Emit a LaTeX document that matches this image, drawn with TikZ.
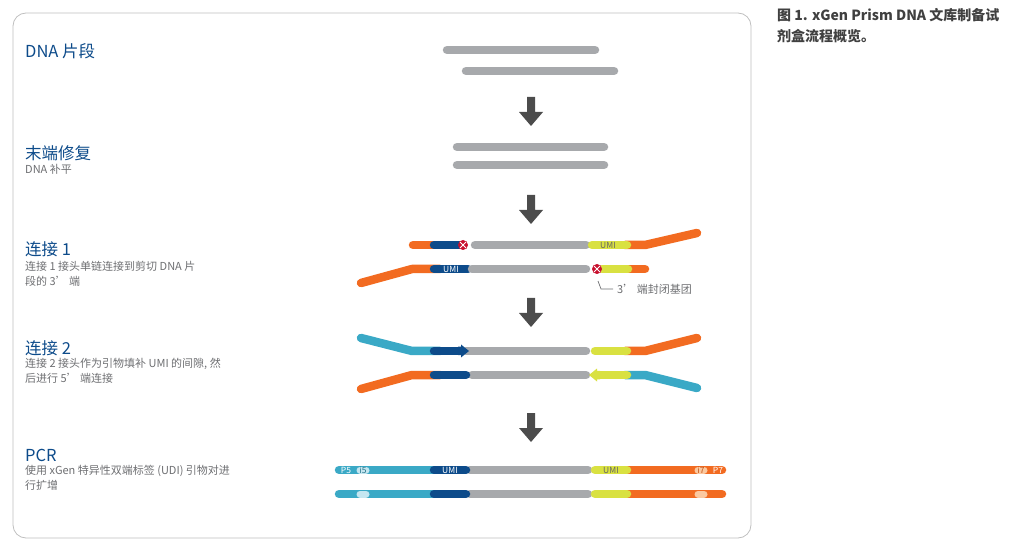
\documentclass[tikz,border=0pt]{standalone}
\usepackage{fontspec}
\setmainfont{Noto Sans CJK SC}
\begin{document}
\definecolor{og}{HTML}{F26B21}
\definecolor{nv}{HTML}{0D4B8A}
\definecolor{gy}{HTML}{A7A9AC}
\definecolor{yl}{HTML}{D9E141}
\definecolor{tl}{HTML}{3AA9C6}
\definecolor{ltl}{HTML}{C5E6F0}
\definecolor{pch}{HTML}{FBC9A0}
\definecolor{rd}{HTML}{C8102E}
\definecolor{tb}{HTML}{0D4B8A}
\definecolor{tg}{HTML}{6D6E71}
\begin{tikzpicture}[x=1pt,y=-1pt,
  s/.style={line width=8.5pt,line cap=round,line join=round},
  head/.style={anchor=base west,text=tb,font=\fontsize{16.5}{16}\selectfont,inner sep=0},
  desc/.style={anchor=north west,text=tg,font=\fontsize{11}{15}\selectfont,inner sep=0,align=left},
  lab/.style={text=white,font=\fontsize{8.5}{8}\selectfont,inner sep=0},
  blk/.style={fill=black!70,draw=none}]
\useasboundingbox (0,0) rectangle (1031,545);
\draw[black!25,line width=0.8pt,rounded corners=13pt] (13,13) rectangle (751,538);
\node[anchor=north west,font=\bfseries\fontsize{14}{21}\selectfont,text=black!75,align=left,inner sep=0] (cap) at (777,8) {图 1. xGen Prism DNA 文库制备试\\剂盒流程概览。};
% left texts
\node[head] (h1) at (25,58) {DNA 片段};
\node[head] (h2) at (25,160) {末端修复};
\node[desc] (d2) at (25,164) {DNA 补平};
\node[head] (h3) at (25,256) {连接 1};
\node[desc] (d3) at (25,261) {连接 1 接头单链连接到剪切 DNA 片\\段的 3’ 端};
\node[head] (h4) at (25,355) {连接 2};
\node[desc] (d4) at (25,358) {连接 2 接头作为引物填补 UMI 的间隙, 然\\后进行 5’ 端连接};
\node[head] (h5) at (25,461) {PCR};
\node[desc] (d5) at (25,465) {使用 xGen 特异性双端标签 (UDI) 引物对进\\行扩增};
% arrows
\foreach \y in {97,195,298,413}
  \fill[blk] (527,\y)--(535,\y)--(535,\y+15)--(543,\y+15)--(531,\y+29)--(519,\y+15)--(527,\y+15)--cycle;
% fragments
\draw[s,gy] (447,50)--(595,50);
\draw[s,gy] (466,71)--(614,71);
\draw[s,gy] (457,147)--(604,147);
\draw[s,gy] (457,165)--(604,165);
% ligation 1 top
\draw[s,og] (413,245)--(440,245);
\draw[s,og] (625,245)--(645,245)--(697,233);
\draw[s,nv] (434,245)--(459,245);
\draw[s,gy] (475,245)--(586,245);
\draw[s,yl] (592,245)--(627,245);
\node[lab,text=black!60] (u1) at (608,245) {UMI};
\fill[rd] (463,245) circle (5pt);
\draw[white,line width=1pt] (460,242)--(466,248) (466,242)--(460,248);
% ligation 1 bottom
\draw[s,og] (361,283)--(412,269)--(440,269);
\draw[s,og] (620,269)--(645,269);
\draw[s,nv] (434,269)--(468,269);
\draw[s,gy] (472,269)--(586,269);
\draw[s,yl] (602,269)--(628,269);
\node[lab] (u2) at (451,269) {UMI};
\fill[rd] (597,269) circle (5pt);
\draw[white,line width=1pt] (594,266)--(600,272) (600,266)--(594,272);
\coordinate (lk) at (598,281);
\draw[tg,line width=0.7pt] (lk)--(601,289)--(613,289);
\node[desc,anchor=west] (bl) at (617,289) {3’ 端封闭基团};
% ligation 2 top
\draw[s,tl] (361,338)--(412,351)--(440,351);
\draw[s,og] (625,351)--(645,351)--(697,338);
\draw[s,gy] (466,351)--(586,351);
\draw[s,nv] (434,351)--(458,351);
\fill[nv] (458,346.75)--(461,346.75)--(461,344.5)--(469,351)--(461,357.5)--(461,355.25)--(458,355.25)--cycle;
\draw[s,yl] (595,351)--(627,351);
% ligation 2 bottom
\draw[s,og] (361,389)--(412,375)--(440,375);
\draw[s,tl] (625,375)--(645,375)--(697,388);
\draw[s,gy] (472,375)--(586,375);
\draw[s,nv] (434,375)--(466,375);
\draw[s,yl] (600,375)--(627,375);
\fill[yl] (600,370.75)--(597,370.75)--(597,368.5)--(589,375)--(597,381.5)--(597,379.25)--(600,379.25)--cycle;
% PCR
\foreach \y in {470,494}{
  \draw[s,tl] (339,\y)--(440,\y);
  \draw[s,og] (620,\y)--(722,\y);
  \draw[s,gy] (470,\y)--(588,\y);
  \draw[s,nv] (434,\y)--(466,\y);
  \draw[s,yl] (595,\y)--(627,\y);
  \draw[s,ltl,line width=7pt] (360,\y)--(366,\y);
  \draw[s,pch,line width=7pt] (698,\y)--(704,\y);
}
\node[lab] (p5) at (346,470) {P5};
\node[lab,text=tl!70!black] (i5) at (363,470) {i5};
\node[lab] (u3) at (450,470) {UMI};
\node[lab,text=black!60] (u4) at (611,470) {UMI};
\node[lab,text=og!80!black] (i7) at (701,470) {i7};
\node[lab] (p7) at (718,470) {P7};
\end{tikzpicture}
\end{document}
